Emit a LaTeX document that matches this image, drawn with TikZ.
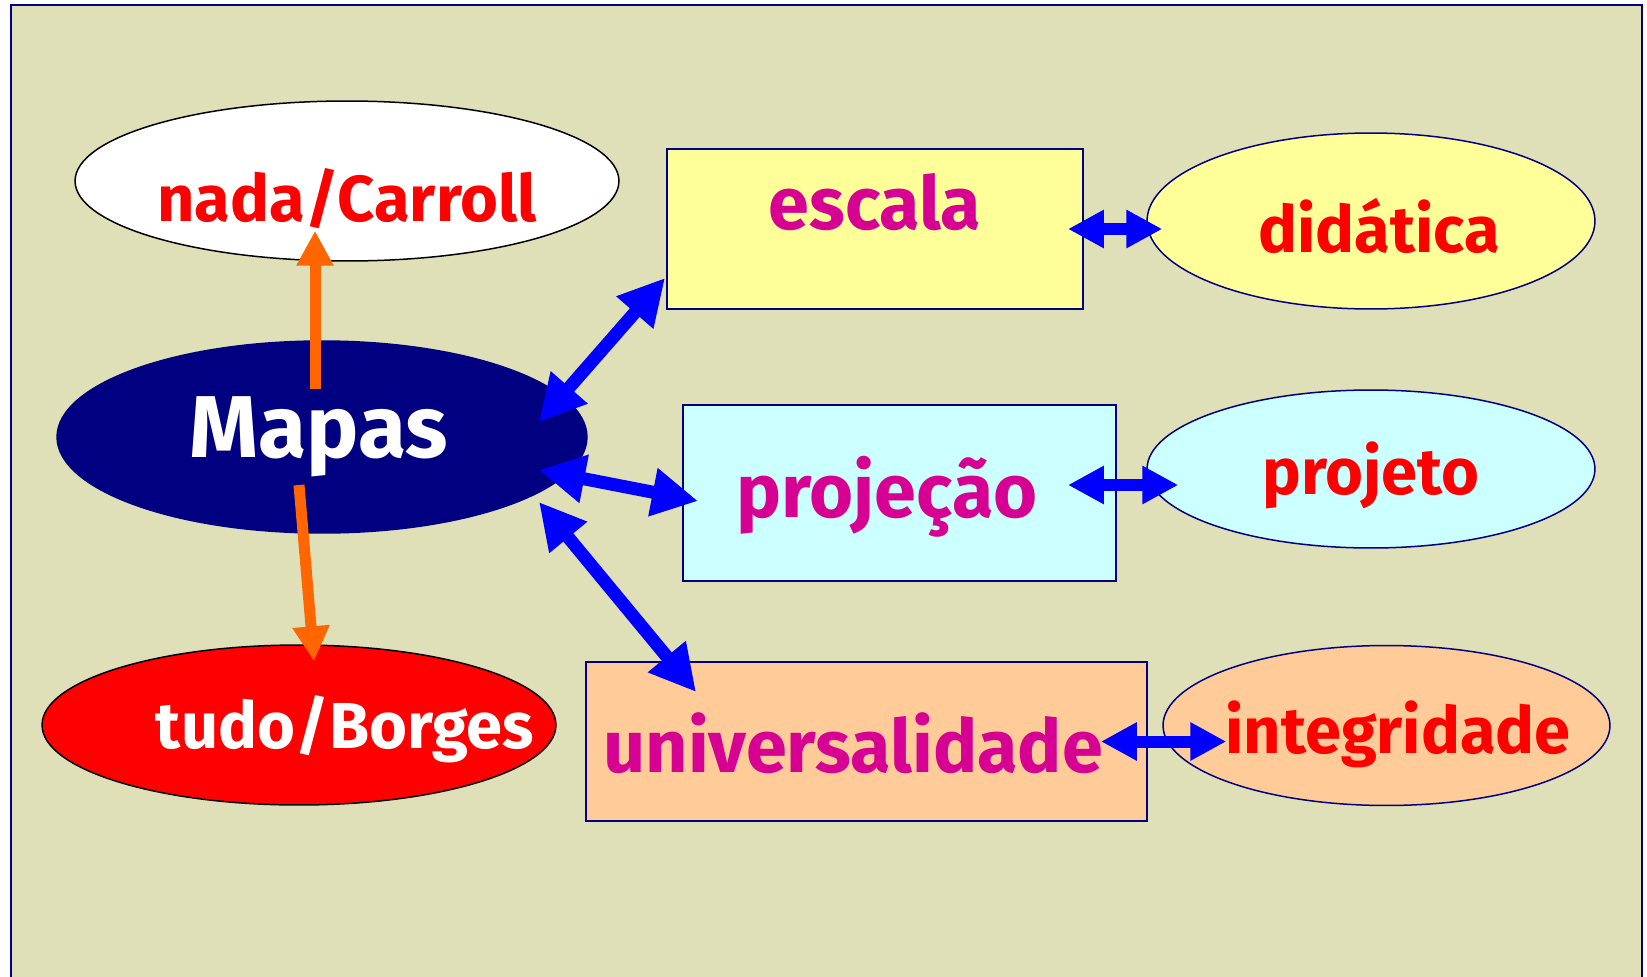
\documentclass[tikz,border=0pt]{standalone}
\usepackage{fontspec}
\setmainfont{Fira Sans}
\usetikzlibrary{shapes.geometric,arrows.meta,calc}
\definecolor{fundo}{RGB}{223,223,184}
\definecolor{marinho}{RGB}{0,0,128}
\definecolor{amarelo}{RGB}{255,255,153}
\definecolor{ciano}{RGB}{204,255,255}
\definecolor{pessego}{RGB}{255,204,153}
\definecolor{rosa}{RGB}{214,0,147}
\definecolor{vermelho}{RGB}{255,0,0}
\definecolor{laranja}{RGB}{255,102,0}
\definecolor{azul}{RGB}{0,0,255}
\tikzset{
    elipse/.style={ellipse,draw=marinho,line width=0.03cm,inner sep=0pt},
    caixa/.style={rectangle,draw=marinho,line width=0.04cm,inner sep=0pt},
    rotulo/.style={anchor=base,inner sep=0pt,font=\fontsize{37}{39}\selectfont\bfseries,text=vermelho},
    conceito/.style={anchor=base,inner sep=0pt,font=\fontsize{42}{44}\selectfont\bfseries,text=rosa},
    setagrande/.style={azul,line width=0.26cm,{Triangle[length=0.92cm,width=0.92cm]}-{Triangle[length=0.92cm,width=0.92cm]}},
    setapequena/.style={azul,line width=0.24cm,{Triangle[length=0.72cm,width=0.72cm]}-{Triangle[length=0.72cm,width=0.72cm]}},
    setalaranja/.style={laranja,line width=0.22cm,-{Triangle[length=0.7cm,width=0.7cm]}}
}
\begin{document}
\begin{tikzpicture}[x=0.02cm,y=-0.02cm]
    \useasboundingbox (0,0) rectangle (1647,977);
    \fill[white] (0,0) rectangle (1647,977);
    \fill[fundo] (11,5) rectangle (1642,977);
    \draw[marinho,line width=0.04cm] (11,977) -- (11,5) -- (1642,5) -- (1642,977);

    \node (nada) [elipse,draw=black,fill=white,minimum width=10.88cm,minimum height=3.2cm] at (347,181) {};
    \node (mapas) [elipse,fill=marinho,minimum width=10.6cm,minimum height=3.84cm] at (322,437) {};
    \node (tudo) [elipse,draw=black,fill=vermelho,minimum width=10.28cm,minimum height=3.2cm] at (299,725) {};

    \node (escala) [caixa,fill=amarelo,minimum width=8.32cm,minimum height=3.2cm] at (875,229) {};
    \node (projecao) [caixa,fill=ciano,minimum width=8.66cm,minimum height=3.52cm] at (899.5,493) {};
    \node (univ) [caixa,fill=pessego,minimum width=11.22cm,minimum height=3.18cm] at (866.5,741.5) {};

    \node (didatica) [elipse,fill=amarelo,minimum width=8.96cm,minimum height=3.52cm] at (1371,221) {};
    \node (projeto) [elipse,fill=ciano,minimum width=8.96cm,minimum height=3.16cm] at (1371,469) {};
    \node (integridade) [elipse,fill=pessego,minimum width=8.94cm,minimum height=3.2cm] at (1386.5,725.5) {};

    \node (t-nada) [rotulo] at (347,221) {nada/Carroll};
    \node (t-mapas) [rotulo,text=white,font=\fontsize{50}{52}\selectfont\bfseries] at (319,457) {Mapas};
    \node (t-tudo) [rotulo,text=white] at (345,748) {tudo/Borges};
    \node (t-escala) [conceito] at (875,229) {escala};
    \node (t-projecao) [conceito,font=\fontsize{43}{45}\selectfont\bfseries] at (887,517) {projeção};
    \node (t-univ) [conceito] at (853,772) {universalidade};
    \node (t-didatica) [rotulo] at (1379,252) {didática};
    \node (t-projeto) [rotulo] at (1371,494) {projeto};
    \node (t-integridade) [rotulo] at (1398,753) {integridade};

    \draw[setagrande] ($(mapas.center)+(217,-15)$) -- ($(escala.west)+(-1,49)$);
    \draw[setagrande] ($(mapas.center)+(217,33)$) -- ($(projecao.west)+(16,8)$);
    \draw[setagrande] ($(mapas.center)+(217,65)$) -- ($(univ.north west)+(111,31)$);

    \draw[setapequena] ($(escala.east)+(-16,0)$) -- ($(didatica.west)+(16,8)$);
    \draw[setapequena] ($(projecao.east)+(-49,-8)$) -- ($(projeto.west)+(32,16)$);
    \draw[setapequena] ($(univ.east)+(-47,0)$) -- ($(integridade.west)+(64,16)$);

    \draw[setalaranja] ($(mapas.center)+(-7,-48)$) -- ($(nada.south)+(-32,-31)$);
    \draw[setalaranja] ($(mapas.center)+(-23,48)$) -- ($(tudo.north)+(15,17)$);
\end{tikzpicture}
\end{document}
